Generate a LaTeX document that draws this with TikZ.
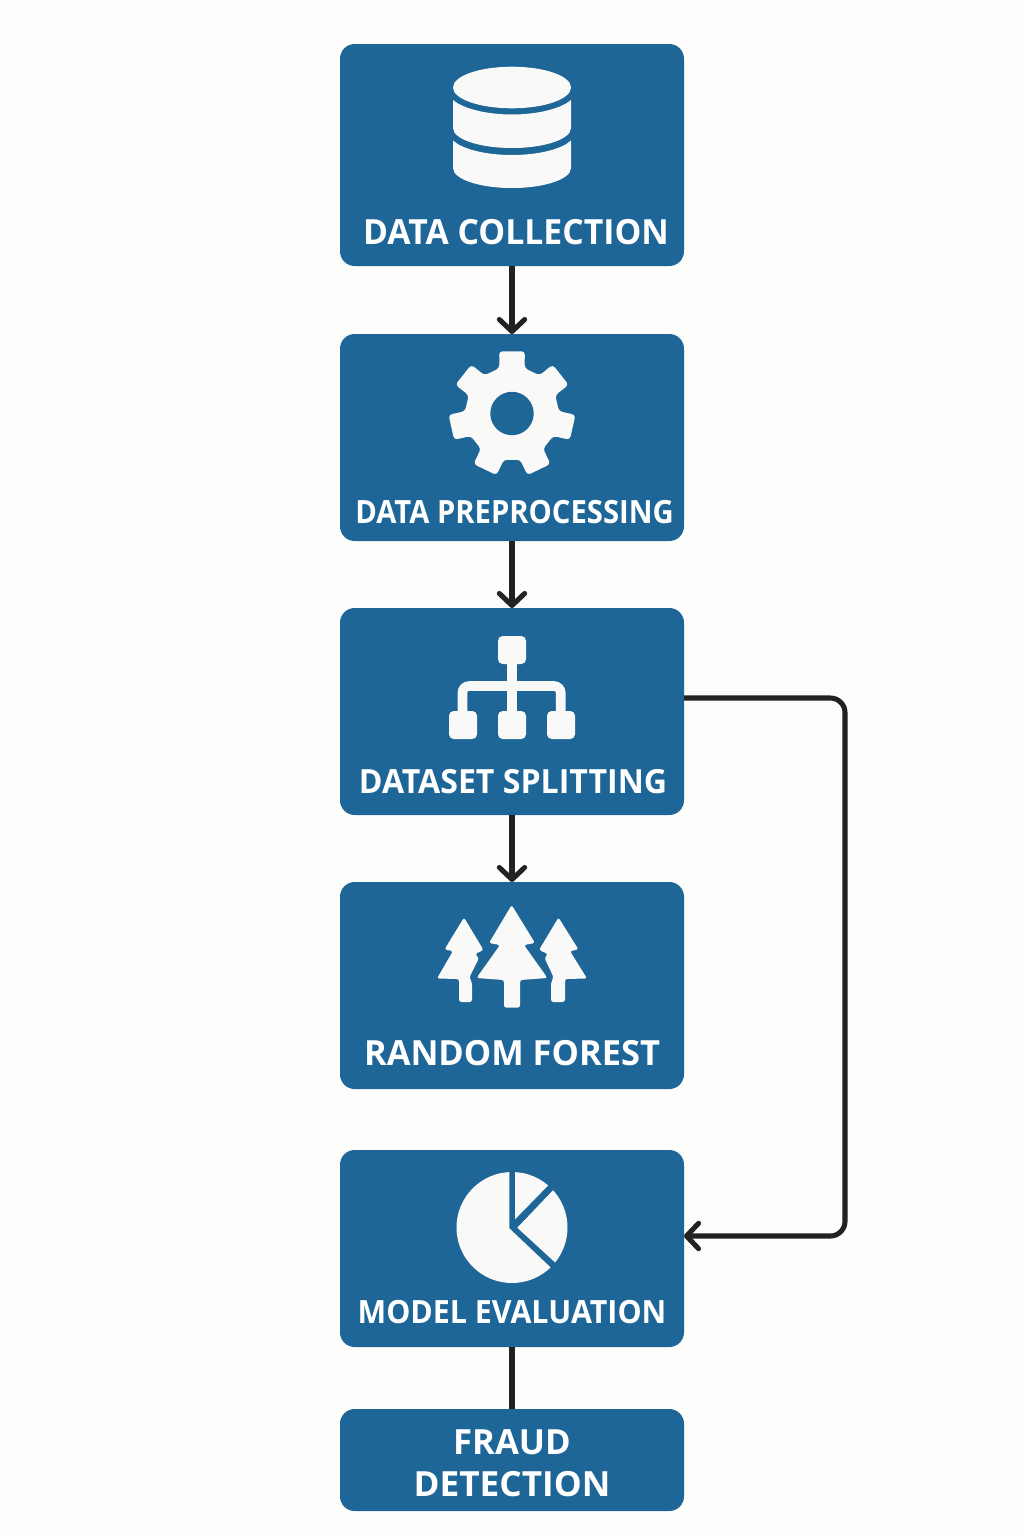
\documentclass[tikz,border=0pt]{standalone}
\usepackage{fontspec}
\setmainfont{Open Sans}
\usetikzlibrary{arrows.meta}
\definecolor{boxblue}{HTML}{1F6698}
\definecolor{iconwhite}{HTML}{F9F9F8}
\definecolor{linedark}{HTML}{222222}
\definecolor{paper}{HTML}{FDFDFB}
\tikzset{
  stepbox/.style={draw=none,fill=boxblue,rounded corners=11pt,minimum width=258pt,inner sep=0pt,outer sep=0pt},
  steplabel/.style 2 args={text=white,font=\bfseries\fontsize{#1}{#1}\selectfont\addfontfeature{FakeStretch=#2},anchor=base,inner sep=0pt},
  iconfill/.style={fill=iconwhite,draw=none},
  iconline/.style={draw=iconwhite,line width=7.2pt},
  conn/.style={draw=linedark,line width=3.8pt},
  barb/.style={-{Straight Barb[length=9pt,width=19pt,line cap=round,round]}},
}
\begin{document}
\begin{tikzpicture}[x=0.75pt,y=-0.75pt]
\useasboundingbox (0,0) rectangle (1024,1536);
\fill[paper] (0,0) rectangle (1024,1536);
% boxes
\node[stepbox,minimum height=166.5pt] (b1) at (512,155) {};
\node[stepbox,minimum height=155.25pt] (b2) at (512,437.5) {};
\node[stepbox,minimum height=155.25pt] (b3) at (512,711.5) {};
\node[stepbox,minimum height=155.25pt] (b4) at (512,985.5) {};
\node[stepbox,minimum height=147.75pt] (b5) at (512,1248.5) {};
\node[stepbox,minimum height=76.5pt] (b6) at (512,1460) {};
% labels
\node[steplabel={26pt}{.974}] (t1) at (516,244.5) {DATA COLLECTION};
\node[steplabel={24pt}{.913}] (t2) at (514.5,523) {DATA PREPROCESSING};
\node[steplabel={25pt}{.962}] (t3) at (513,793.5) {DATASET SPLITTING};
\node[steplabel={26pt}{.993}] (t4) at (512,1065) {RANDOM FOREST};
\node[steplabel={24pt}{.949}] (t5) at (512,1323.5) {MODEL EVALUATION};
\node[steplabel={26pt}{1}] (t6) at (512,1454) {FRAUD};
\node[steplabel={26pt}{1.015}] (t7) at (512,1496.5) {DETECTION};
% connectors
\draw[conn,barb] (b1) -- (b2);
\draw[conn,barb] (b2) -- (b3);
\draw[conn,barb] (b3) -- (b4);
\draw[conn] (b5) -- (b6);
\coordinate (c1) at (b3.east |- 0,698);
\coordinate (c2) at (b5.east |- 0,1236);
\coordinate (c3) at (845,698);
\coordinate (c4) at (845,1236);
\draw[conn,barb,rounded corners=11pt] (c1) -- (c3) -- (c4) -- (c2);
% database icon
\fill[iconfill] (512,87.5) ellipse [x radius=59,y radius=20.8];
\fill[iconfill] (453,100) .. controls (462,108) and (485,114.5) .. (512,114.5) .. controls (539,114.5) and (562,108) .. (571,100)
  -- (571,128) .. controls (571,139) and (545,148) .. (512,148) .. controls (479,148) and (453,139) .. (453,128) -- cycle;
\fill[iconfill] (453,140.5) .. controls (462,149) and (485,155) .. (512,155) .. controls (539,155) and (562,149) .. (571,140.5)
  -- (571,168) .. controls (571,179) and (545,188) .. (512,188) .. controls (479,188) and (453,179) .. (453,168) -- cycle;
% gear icon
\begin{scope}[shift={(512,413.5)}]
\fill[iconfill,rounded corners=2.5pt] (-105.7:47)
  \foreach \k [evaluate=\k as \a using -90+\k*51.4286] in {0,...,6} {
    -- (\a-15.7:47) -- (\a-11.6:63.5) -- (\a+11.6:63.5) -- (\a+15.7:47)
  } -- cycle;
\fill[boxblue] (0,0) circle [radius=21.7];
\end{scope}
% hierarchy icon
\draw[iconline] (512,650) -- (512,725);
\draw[iconline,rounded corners=5pt] (462.5,725) -- (462.5,686) -- (560.7,686) -- (560.7,725);
\fill[iconfill,rounded corners=3.5pt] (498,636) rectangle (526,664);
\fill[iconfill,rounded corners=3.5pt] (449,711) rectangle (477,739);
\fill[iconfill,rounded corners=3.5pt] (498,711) rectangle (526,739);
\fill[iconfill,rounded corners=3.5pt] (547,711) rectangle (575,739);
% forest icon
\fill[iconfill,rounded corners=1.8pt]
  (511.7,905) -- (535,943) -- (524,945) -- (547.5,978) -- (520,980) -- (520,1007.7) -- (504,1007.7) -- (504,980) -- (476.5,978) -- (500,945) -- (489,943) -- cycle;
\fill[iconfill,rounded corners=1.8pt]
  (464,917.5) -- (483.5,950) -- (475,954) -- (479,958) -- (469.5,977) -- (472,983) -- (472,1002) -- (459,1002) -- (459,979) -- (437,978.5) -- (453,951) -- (444.5,949.5) -- cycle;
\fill[iconfill,rounded corners=1.8pt]
  (558.5,917.5) -- (578.5,949.5) -- (570,951) -- (587,978.5) -- (565,979) -- (565,1002) -- (551,1002) -- (551,983) -- (553.5,977) -- (544.5,958) -- (548,954) -- (539,950) -- cycle;
% pie icon
\begin{scope}
\clip (512,1227.5) circle [radius=55.5];
\fill[iconfill] (509.3,1160) -- (509.3,1228.3) -- (585,1300) -- (440,1300) -- (440,1160) -- cycle;
\fill[iconfill] (515,1160) -- (515,1219.3) -- (575,1158) -- cycle;
\fill[iconfill] (517.3,1227.7) -- (580,1162) -- (600,1162) -- (600,1294.5) -- (590,1294.5) -- cycle;
\end{scope}
\end{tikzpicture}
\end{document}
